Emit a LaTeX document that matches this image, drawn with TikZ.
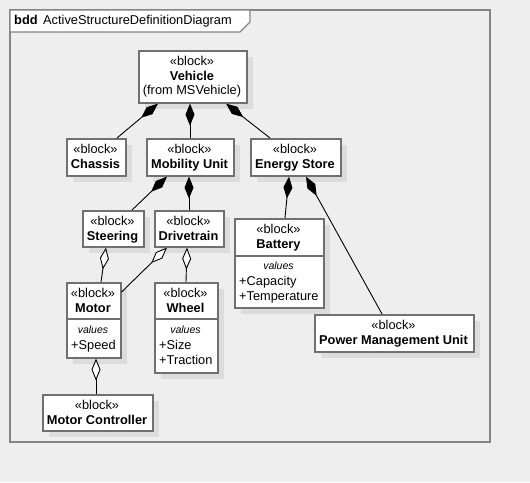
\documentclass[tikz,border=0pt]{standalone}
\usepackage{fontspec}
\setmainfont{Liberation Sans}
\usetikzlibrary{arrows.meta,calc,shadows}
\definecolor{bg}{HTML}{EEEEEE}
\definecolor{bord}{HTML}{707070}
\definecolor{frm}{HTML}{858585}
\definecolor{shd}{HTML}{DCDCDC}
\begin{document}
\begin{tikzpicture}[x=1pt,y=-1pt,
  blk/.style={draw=bord, line width=1.6pt, fill=white, inner sep=0pt, anchor=north west,
    drop shadow={shadow xshift=6pt, shadow yshift=-6pt, fill=shd, opacity=1}},
  ln/.style={anchor=base, inner sep=0pt, font=\fontsize{12.8}{14.5}\selectfont},
  bl/.style={ln, font=\fontsize{12.8}{14.5}\selectfont\bfseries},
  vl/.style={ln, font=\fontsize{10.5}{12}\selectfont\itshape},
  attr/.style={ln, anchor=base west},
  sepline/.style={draw=bord, line width=1.6pt},
  comp/.style={draw=black, line width=0.9pt, -{Diamond[length=22pt,width=9pt,fill=black]}},
  aggr/.style={draw=black, line width=0.9pt, -{Diamond[length=22pt,width=9pt,open,fill=white]}},
]
\useasboundingbox (0,0) rectangle (530,482);
\fill[bg] (0,0) rectangle (530,482);
% frame
\draw[draw=frm, line width=1.3pt] (10,10) rectangle (490,442);
\draw[draw=frm, line width=1.3pt, fill=white] (10,10) -- (250,10) -- (250,22) -- (240,32) -- (10,32) -- cycle;
\node[ln, anchor=base west, font=\fontsize{12.8}{14.5}\selectfont\bfseries] (bddk) at (14,24.6) {bdd};
\node[ln, anchor=base west] (bddt) at (43,24.6) {ActiveStructureDefinitionDiagram};

% blocks
\node[blk, minimum width=108pt, minimum height=52pt] (vehicle) at (138,50) {};
\node[blk, minimum width=59pt, minimum height=37pt] (chassis) at (66,138) {};
\node[blk, minimum width=87pt, minimum height=37pt] (mobility) at (146,138) {};
\node[blk, minimum width=90pt, minimum height=37pt] (energy) at (250,138) {};
\node[blk, minimum width=61pt, minimum height=36pt] (steering) at (82,210) {};
\node[blk, minimum width=69pt, minimum height=36pt] (drivetrain) at (154,210) {};
\node[blk, minimum width=89pt, minimum height=89pt] (battery) at (234,218) {};
\node[blk, minimum width=54pt, minimum height=75pt] (motor) at (66,282) {};
\node[blk, minimum width=63pt, minimum height=90pt] (wheel) at (154,282) {};
\node[blk, minimum width=159pt, minimum height=37pt] (pmu) at (314,314) {};
\node[blk, minimum width=110pt, minimum height=36pt] (mc) at (42,394) {};

% compartment lines
\draw[sepline] ($(battery.north west)+(0,38)$) -- ($(battery.north east)+(0,38)$);
\draw[sepline] ($(motor.north west)+(0,37)$) -- ($(motor.north east)+(0,37)$);
\draw[sepline] ($(wheel.north west)+(0,37)$) -- ($(wheel.north east)+(0,37)$);

% texts
\node[ln] (vehicleS) at (192,65.6) {«block»};
\node[bl] (vehicleN) at (192,80.1) {Vehicle};
\node[ln] (vehicleF) at (192,94.6) {(from MSVehicle)};

\node[ln] (chassisS) at (95.5,153.6) {«block»};
\node[bl] (chassisN) at (95.5,168.1) {Chassis};

\node[ln] (mobilityS) at (189.5,153.6) {«block»};
\node[bl] (mobilityN) at (189.5,168.1) {Mobility Unit};

\node[ln] (energyS) at (295,153.6) {«block»};
\node[bl] (energyN) at (295,168.1) {Energy Store};

\node[ln] (steeringS) at (112.5,225.6) {«block»};
\node[bl] (steeringN) at (112.5,240.1) {Steering};

\node[ln] (drivetrainS) at (188.5,225.6) {«block»};
\node[bl] (drivetrainN) at (188.5,240.1) {Drivetrain};

\node[ln] (batteryS) at (278.5,233.6) {«block»};
\node[bl] (batteryN) at (278.5,248.1) {Battery};
\node[vl] (batteryV) at (278.5,269) {values};
\node[attr] (batteryA1) at (239,285.6) {+Capacity};
\node[attr] (batteryA2) at (239,300.6) {+Temperature};

\node[ln] (motorS) at (93,297.6) {«block»};
\node[bl] (motorN) at (93,312.1) {Motor};
\node[vl] (motorV) at (93,333) {values};
\node[attr] (motorA1) at (71,349.6) {+Speed};

\node[ln] (wheelS) at (185.5,297.6) {«block»};
\node[bl] (wheelN) at (185.5,312.1) {Wheel};
\node[vl] (wheelV) at (185.5,333) {values};
\node[attr] (wheelA1) at (159,349.6) {+Size};
\node[attr] (wheelA2) at (159,364.6) {+Traction};

\node[ln] (pmuS) at (393.5,329.6) {«block»};
\node[bl] (pmuN) at (393.5,344.1) {Power Management Unit};

\node[ln] (mcS) at (97,409.6) {«block»};
\node[bl] (mcN) at (97,424.1) {Motor Controller};

% composition connectors
\draw[comp] ($(chassis.north west)+(51,0)$) -- ($(vehicle.south west)+(20,0)$);
\draw[comp] ($(mobility.north west)+(44,0)$) -- ($(vehicle.south west)+(52,0)$);
\draw[comp] ($(energy.north west)+(20,0)$) -- ($(vehicle.south west)+(88,0)$);
\draw[comp] ($(steering.north west)+(50,0)$) -- ($(mobility.south west)+(21,0)$);
\draw[comp] ($(drivetrain.north west)+(35,0)$) -- ($(mobility.south west)+(43,0)$);
\draw[comp] ($(battery.north west)+(51,0)$) -- ($(energy.south west)+(39,0)$);
\draw[comp] ($(pmu.north west)+(68,0)$) -- ($(energy.south west)+(56,0)$);
% aggregation connectors
\draw[aggr] ($(motor.north west)+(35,0)$) -- ($(steering.south west)+(24,0)$);
\draw[aggr] ($(motor.north east)+(0,10)$) -- ($(drivetrain.south west)+(13,0)$);
\draw[aggr] ($(wheel.north west)+(32,0)$) -- ($(drivetrain.south west)+(33,0)$);
\draw[aggr] ($(mc.north west)+(54,0)$) -- ($(motor.south west)+(30,0)$);
\end{tikzpicture}
\end{document}
